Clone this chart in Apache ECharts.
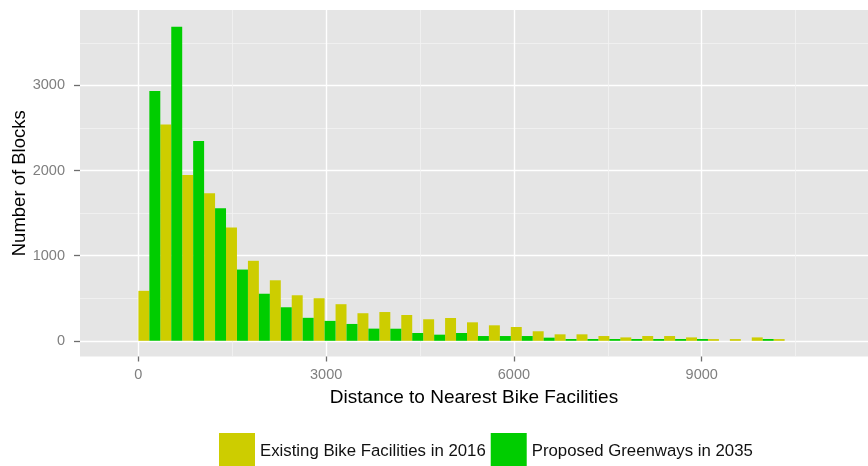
<!DOCTYPE html>
<html>
<head>
<meta charset="utf-8">
<script src="https://cdn.jsdelivr.net/npm/echarts@6/dist/echarts.min.js"></script>
<style>
html,body{margin:0;padding:0;background:#ffffff;}
#chart{width:868px;height:466px;}
</style>
</head>
<body>
<div id="chart"></div>
<script>
// Histogram bins (left edges) and counts
const binStarts = [0,350,700,1050,1400,1750,2100,2450,2800,3150,3500,3850,4200,4550,4900,5250,5600,5950,6300,6650,7000,7350,7700,8050,8400,8750,9100,9450,9800,10150];
const binWidth = 350;
const existing2016 = [587,2543,1948,1733,1330,940,711,535,500,430,324,338,303,253,268,217,182,162,112,76,76,56,40,56,56,40,20,20,40,20];
const greenways2035 = [2934,3689,2347,1557,837,553,394,270,234,198,143,142,92,72,92,56,56,56,37,21,21,21,21,21,21,21,0,0,21,0];
const seriesNames = ['Existing Bike Facilities in 2016','Proposed Greenways in 2035'];
const xMajorTicks = [0,3000,6000,9000];
const xMinorTicks = [1500,4500,7500,10500];
const yMajorTicks = [0,1000,2000,3000];
const yMinorTicks = [500,1500,2500,3500];

const FONT = "'Liberation Sans', Arial, sans-serif";

function makeRender(offsetFrac) {
  return function (params, api) {
    const x0 = api.value(0) + offsetFrac * binWidth;
    const x1 = x0 + binWidth / 2;
    const v = api.value(1);
    const p0 = api.coord([x0, 0]);
    const p1 = api.coord([x1, v]);
    return {
      type: 'rect',
      shape: { x: p0[0], y: p1[1], width: p1[0] - p0[0], height: p0[1] - p1[1] },
      style: { fill: api.visual('color') }
    };
  };
}

const chart = echarts.init(document.getElementById('chart'), null, { renderer: 'canvas' });

const option = {
  animation: false,
  backgroundColor: '#ffffff',
  grid: {
    left: 80, right: 0, top: 10, bottom: 109.5,
    outerBoundsMode: 'none',
    containLabel: false,
    show: true, backgroundColor: '#E5E5E5', borderWidth: 0
  },
  legend: {
    data: seriesNames,
    left: 219, top: 433, padding: 0,
    itemWidth: 36, itemHeight: 36, itemGap: 5,
    icon: 'rect',
    textStyle: { fontFamily: FONT, fontSize: 16.8, color: '#111111' }
  },
  xAxis: [
    {
      type: 'value', min: -933, max: 11657,
      axisLine: { show: false, onZero: false },
      axisTick: { show: true, length: 5, customValues: xMajorTicks, lineStyle: { color: '#6E6E6E', width: 1.3 } },
      axisLabel: { customValues: xMajorTicks, color: '#7F7F7F', fontFamily: FONT, fontSize: 14.5, margin: 11, formatter: v => String(v) },
      splitLine: { show: true, lineStyle: { color: '#FFFFFF', width: 1.4 } },
      name: 'Distance to Nearest Bike Facilities',
      nameLocation: 'middle', nameGap: 32,
      nameTextStyle: { fontFamily: FONT, fontSize: 19, color: '#000000' }
    },
    {
      type: 'value', min: -933, max: 11657, position: 'bottom',
      axisLine: { show: false, onZero: false },
      axisTick: { show: false, customValues: xMinorTicks },
      axisLabel: { show: false, customValues: xMinorTicks },
      splitLine: { show: true, lineStyle: { color: '#F2F2F2', width: 0.8 } }
    }
  ],
  yAxis: [
    {
      type: 'value', min: -184.5, max: 3887,
      axisLine: { show: false, onZero: false },
      axisTick: { show: true, length: 6, customValues: yMajorTicks, lineStyle: { color: '#6E6E6E', width: 1.3 } },
      axisLabel: { customValues: yMajorTicks, color: '#7F7F7F', fontFamily: FONT, fontSize: 14.5, margin: 15, formatter: v => String(v) },
      splitLine: { show: true, lineStyle: { color: '#FFFFFF', width: 1.4 } },
      name: 'Number of Blocks',
      nameLocation: 'middle', nameGap: 51, nameRotate: 90, nameMoveOverlap: false,
      nameTextStyle: { fontFamily: FONT, fontSize: 18.5, color: '#000000' }
    },
    {
      type: 'value', min: -184.5, max: 3887, position: 'left',
      axisLine: { show: false, onZero: false },
      axisTick: { show: false, customValues: yMinorTicks },
      axisLabel: { show: false, customValues: yMinorTicks },
      splitLine: { show: true, lineStyle: { color: '#F2F2F2', width: 0.8 } }
    }
  ],
  series: [
    {
      name: seriesNames[0], type: 'custom', xAxisIndex: 0, yAxisIndex: 0,
      itemStyle: { color: '#CDCD00' },
      renderItem: makeRender(0),
      encode: { x: 0, y: 1 },
      data: binStarts.map((s, i) => [s, existing2016[i]]),
      z: 3
    },
    {
      name: seriesNames[1], type: 'custom', xAxisIndex: 0, yAxisIndex: 0,
      itemStyle: { color: '#00CD00' },
      renderItem: makeRender(0.5),
      encode: { x: 0, y: 1 },
      data: binStarts.map((s, i) => [s, greenways2035[i]]),
      z: 3
    }
  ]
};
chart.setOption(option);
</script>
</body>
</html>
